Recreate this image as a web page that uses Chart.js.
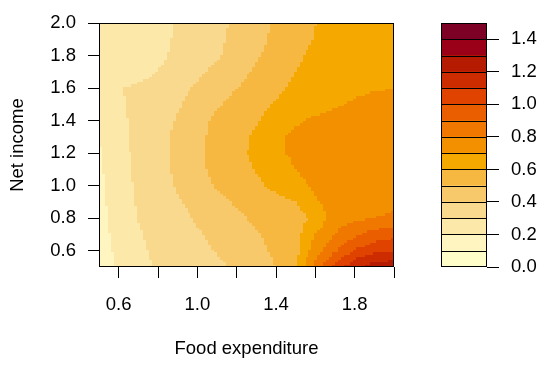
<!DOCTYPE html>
<html>
<head>
<meta charset="utf-8">
<script src="https://cdn.jsdelivr.net/npm/chart.js@4.4.1/dist/chart.umd.min.js"></script>
<style>
  html, body { margin: 0; padding: 0; background: #ffffff; }
  #wrap { position: relative; width: 542px; height: 365px; }
  #wrap canvas { position: absolute; left: 0; top: 0; }
</style>
</head>
<body>
<div id="wrap">
  <canvas id="main" width="542" height="365"></canvas>
  <canvas id="key" width="542" height="365"></canvas>
</div>
<script>
// Grid positions of the surface (Food expenditure across, Net income up)
const expenditureGrid = [0.5, 0.6, 0.7, 0.8, 0.9, 1.0, 1.1, 1.2, 1.3, 1.4, 1.5, 1.6, 1.7, 1.8, 1.9, 2.0];
const incomeGrid      = [0.5, 0.6, 0.7, 0.8, 0.9, 1.0, 1.1, 1.2, 1.3, 1.4, 1.5, 1.6, 1.7, 1.8, 1.9, 2.0];

// Surface values, one row per Net income level (values along Food expenditure)
const zIncome050 = [0.150, 0.210, 0.270, 0.310, 0.330, 0.355, 0.385, 0.410, 0.450, 0.500, 0.598, 0.830, 1.035, 1.185, 1.250, 1.280];
const zIncome060 = [0.160, 0.220, 0.280, 0.320, 0.350, 0.375, 0.405, 0.440, 0.475, 0.520, 0.570, 0.750, 0.885, 1.010, 1.070, 1.090];
const zIncome070 = [0.165, 0.230, 0.290, 0.330, 0.360, 0.390, 0.420, 0.455, 0.490, 0.530, 0.565, 0.700, 0.800, 0.880, 0.940, 0.975];
const zIncome080 = [0.170, 0.235, 0.302, 0.340, 0.375, 0.410, 0.445, 0.480, 0.520, 0.550, 0.570, 0.615, 0.765, 0.780, 0.800, 0.810];
const zIncome090 = [0.175, 0.245, 0.310, 0.350, 0.390, 0.430, 0.470, 0.515, 0.550, 0.570, 0.598, 0.690, 0.740, 0.765, 0.780, 0.785];
const zIncome100 = [0.180, 0.255, 0.315, 0.360, 0.410, 0.460, 0.510, 0.550, 0.580, 0.625, 0.675, 0.715, 0.740, 0.755, 0.765, 0.775];
const zIncome110 = [0.185, 0.260, 0.320, 0.365, 0.420, 0.475, 0.530, 0.570, 0.605, 0.650, 0.702, 0.730, 0.745, 0.755, 0.760, 0.765];
const zIncome120 = [0.190, 0.265, 0.325, 0.370, 0.425, 0.480, 0.535, 0.575, 0.620, 0.680, 0.720, 0.740, 0.750, 0.760, 0.765, 0.770];
const zIncome130 = [0.205, 0.280, 0.325, 0.370, 0.420, 0.475, 0.530, 0.570, 0.615, 0.680, 0.720, 0.740, 0.750, 0.760, 0.765, 0.765];
const zIncome140 = [0.250, 0.285, 0.320, 0.360, 0.410, 0.465, 0.520, 0.555, 0.590, 0.640, 0.690, 0.715, 0.730, 0.740, 0.745, 0.750];
const zIncome150 = [0.250, 0.290, 0.315, 0.345, 0.390, 0.440, 0.490, 0.530, 0.570, 0.610, 0.640, 0.665, 0.690, 0.710, 0.720, 0.725];
const zIncome160 = [0.260, 0.298, 0.315, 0.335, 0.370, 0.415, 0.455, 0.500, 0.545, 0.580, 0.620, 0.650, 0.670, 0.685, 0.695, 0.698];
const zIncome170 = [0.230, 0.250, 0.270, 0.302, 0.330, 0.380, 0.425, 0.465, 0.515, 0.560, 0.600, 0.635, 0.660, 0.675, 0.685, 0.690];
const zIncome180 = [0.220, 0.240, 0.265, 0.285, 0.315, 0.350, 0.390, 0.440, 0.490, 0.530, 0.585, 0.620, 0.650, 0.665, 0.675, 0.685];
const zIncome190 = [0.220, 0.240, 0.260, 0.280, 0.310, 0.345, 0.380, 0.425, 0.475, 0.520, 0.565, 0.605, 0.635, 0.655, 0.670, 0.680];
const zIncome200 = [0.220, 0.240, 0.260, 0.280, 0.305, 0.340, 0.375, 0.420, 0.465, 0.515, 0.555, 0.598, 0.630, 0.650, 0.665, 0.675];

// Contour levels and their fill colours (light to dark)
const levelBreaks = [0.0, 0.1, 0.2, 0.3, 0.4, 0.5, 0.6, 0.7, 0.8, 0.9, 1.0, 1.1, 1.2, 1.3, 1.4, 1.5];
const levelColors = ['#FFFEC8', '#FEF5C0', '#FCE9AA', '#F9D98E', '#F7C96B', '#F6B840', '#F5A900',
                     '#F39000', '#F07700', '#EB5E00', '#E04300', '#CD2C00', '#B51B00', '#9A0018', '#7D0025'];

// Axis ticks
const xTickValues = [0.6, 0.8, 1.0, 1.2, 1.4, 1.6, 1.8, 2.0];
const xTickLabels = ['0.6', '', '1.0', '', '1.4', '', '1.8', ''];
const yTickValues = [0.6, 0.8, 1.0, 1.2, 1.4, 1.6, 1.8, 2.0];
const yTickLabels = ['0.6', '0.8', '1.0', '1.2', '1.4', '1.6', '1.8', '2.0'];
const keyTickValues = [0.0, 0.2, 0.4, 0.6, 0.8, 1.0, 1.2, 1.4];
const keyTickLabels = ['0.0', '0.2', '0.4', '0.6', '0.8', '1.0', '1.2', '1.4'];

const zRows = [zIncome050, zIncome060, zIncome070, zIncome080, zIncome090, zIncome100, zIncome110, zIncome120,
               zIncome130, zIncome140, zIncome150, zIncome160, zIncome170, zIncome180, zIncome190, zIncome200];

const FONT = { family: "'Liberation Sans', Arial, Helvetica, sans-serif", size: 18.5 };

function locate(grid, v) {
  let i = 0;
  while (i < grid.length - 2 && v > grid[i + 1]) i++;
  return [i, (v - grid[i]) / (grid[i + 1] - grid[i])];
}

function surfaceAt(xv, yv) {
  const [i, tx] = locate(expenditureGrid, xv);
  const [j, ty] = locate(incomeGrid, yv);
  const z00 = zRows[j][i], z10 = zRows[j][i + 1];
  const z01 = zRows[j + 1][i], z11 = zRows[j + 1][i + 1];
  return (z00 * (1 - tx) + z10 * tx) * (1 - ty) + (z01 * (1 - tx) + z11 * tx) * ty;
}

function levelIndex(z) {
  for (let k = 0; k < levelBreaks.length - 1; k++) {
    if (z < levelBreaks[k + 1]) return k;
  }
  return levelBreaks.length - 2;
}

// Paints the filled contour bands inside the plot area, then frames it
const surfacePlugin = {
  id: 'surface',
  beforeDatasetsDraw(chart) {
    const { ctx, chartArea: a, scales: { x, y } } = chart;
    const x0 = expenditureGrid[0], x1 = expenditureGrid[expenditureGrid.length - 1];
    const y0 = incomeGrid[0], y1 = incomeGrid[incomeGrid.length - 1];
    const n = 100;
    const dx = (x1 - x0) / n, dy = (y1 - y0) / n;
    ctx.save();
    ctx.beginPath();
    ctx.rect(a.left, a.top, a.right - a.left, a.bottom - a.top);
    ctx.clip();
    for (let i = 0; i < n; i++) {
      const pxa = Math.round(x.getPixelForValue(x0 + i * dx));
      const pxb = Math.round(x.getPixelForValue(x0 + (i + 1) * dx));
      for (let j = 0; j < n; j++) {
        const pya = Math.round(y.getPixelForValue(y0 + (j + 1) * dy));
        const pyb = Math.round(y.getPixelForValue(y0 + j * dy));
        const z = surfaceAt(x0 + (i + 0.5) * dx, y0 + (j + 0.5) * dy);
        ctx.fillStyle = levelColors[levelIndex(z)];
        ctx.fillRect(pxa, pya, pxb - pxa, pyb - pya);
      }
    }
    ctx.restore();
  },
  afterDraw(chart) {
    const { ctx, chartArea: a } = chart;
    ctx.save();
    ctx.strokeStyle = '#000000';
    ctx.lineWidth = 1;
    ctx.strokeRect(Math.round(a.left) + 0.5, Math.round(a.top) + 0.5,
                   Math.round(a.right - a.left) - 1, Math.round(a.bottom - a.top) - 1);
    ctx.restore();
  }
};

// Draws the separators and frame of the colour key
const keyLinesPlugin = {
  id: 'keyLines',
  afterDatasetsDraw(chart) {
    const { ctx, chartArea: a, scales: { y } } = chart;
    ctx.save();
    ctx.strokeStyle = '#000000';
    ctx.lineWidth = 1;
    ctx.beginPath();
    for (let k = 1; k < levelBreaks.length - 1; k++) {
      const py = Math.round(y.getPixelForValue(levelBreaks[k])) + 0.5;
      ctx.moveTo(a.left, py);
      ctx.lineTo(a.right, py);
    }
    ctx.stroke();
    ctx.strokeRect(Math.round(a.left) + 0.5, Math.round(a.top) + 0.5,
                   Math.round(a.right - a.left) - 1, Math.round(a.bottom - a.top) - 1);
    ctx.restore();
  }
};

const axisGrid = { drawOnChartArea: false, drawTicks: true, tickLength: 11, tickColor: '#000000', tickWidth: 1 };

new Chart(document.getElementById('main'), {
  type: 'scatter',
  data: { datasets: [{ data: [], pointRadius: 0 }] },
  options: {
    responsive: false,
    animation: false,
    layout: { padding: { left: 0, top: 17, right: 148, bottom: 0 } },
    plugins: { legend: { display: false }, tooltip: { enabled: false } },
    scales: {
      x: {
        type: 'linear', min: 0.5, max: 2.0,
        afterBuildTicks: s => { s.ticks = xTickValues.map(v => ({ value: v })); },
        afterFit: s => { s.height = 98; },
        grid: axisGrid,
        border: { display: false },
        ticks: { color: '#000000', font: FONT, padding: 16, maxRotation: 0, autoSkip: false,
                 callback: (v, i) => xTickLabels[i] },
        title: { display: true, text: 'Food expenditure', color: '#000000', font: FONT,
                 padding: { top: 0, bottom: 5 } }
      },
      y: {
        type: 'linear', min: 0.5, max: 2.0,
        afterBuildTicks: s => { s.ticks = yTickValues.map(v => ({ value: v })); },
        afterFit: s => { s.width = 99; },
        grid: axisGrid,
        border: { display: false },
        ticks: { color: '#000000', font: FONT, padding: 12, autoSkip: false,
                 callback: (v, i) => yTickLabels[i] },
        title: { display: true, text: 'Net income', color: '#000000', font: FONT,
                 padding: { top: 7, bottom: 0 } }
      }
    }
  },
  plugins: [surfacePlugin]
});

new Chart(document.getElementById('key'), {
  type: 'bar',
  data: {
    labels: [''],
    datasets: levelColors.map((c, k) => ({
      data: [levelBreaks[k + 1] - levelBreaks[k]],
      backgroundColor: c,
      borderWidth: 0,
      barPercentage: 1,
      categoryPercentage: 1
    }))
  },
  options: {
    responsive: false,
    animation: false,
    layout: { padding: { left: 441, top: 17, right: 0, bottom: 98 } },
    plugins: { legend: { display: false }, tooltip: { enabled: false } },
    scales: {
      x: { display: false, stacked: true },
      y: {
        stacked: true, position: 'right', min: 0, max: 1.5,
        afterBuildTicks: s => { s.ticks = keyTickValues.map(v => ({ value: v })); },
        afterFit: s => { s.width = 55; },
        grid: { drawOnChartArea: false, drawTicks: true, tickLength: 12, tickColor: '#000000', tickWidth: 1 },
        border: { display: false },
        ticks: { color: '#000000', font: FONT, padding: 12, autoSkip: false,
                 callback: (v, i) => keyTickLabels[i] }
      }
    }
  },
  plugins: [keyLinesPlugin]
});
</script>
</body>
</html>
